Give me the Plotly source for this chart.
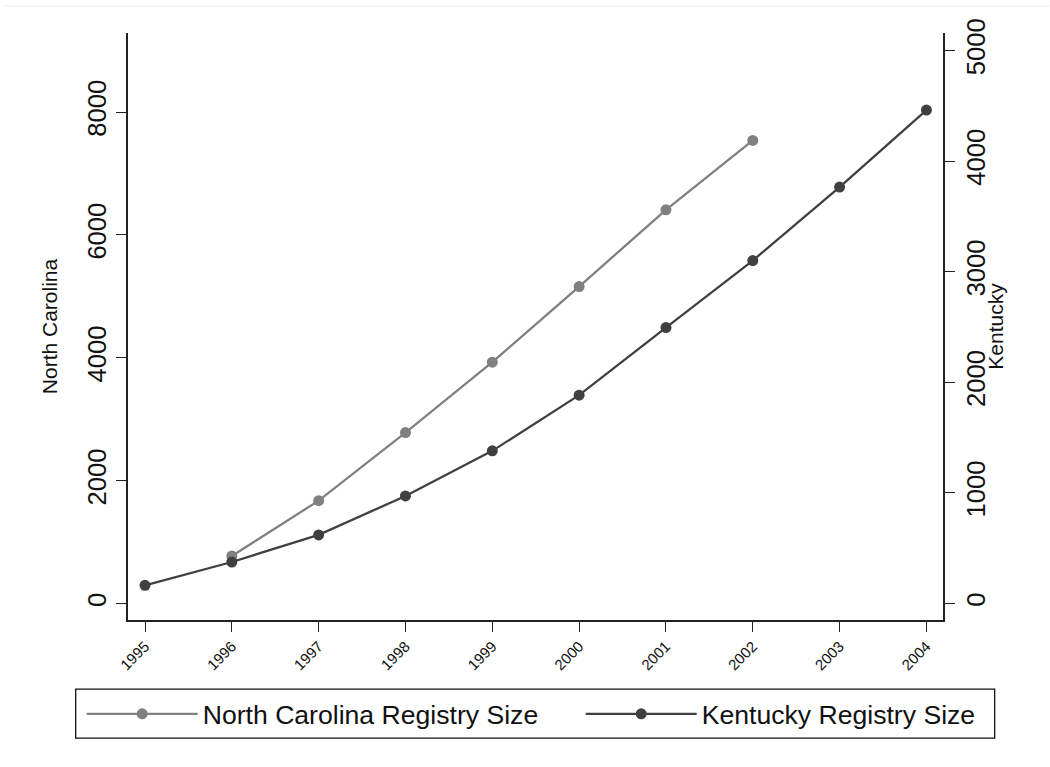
import plotly.graph_objects as go

years = [1995, 1996, 1997, 1998, 1999, 2000, 2001, 2002, 2003, 2004]
north_carolina = [None, 776, 1676, 2784, 3930, 5161, 6410, 7538, None, None]
kentucky = [164, 375, 620, 972, 1380, 1884, 2495, 3101, 3766, 4462]
left_ticks = [0, 2000, 4000, 6000, 8000]
right_ticks = [0, 1000, 2000, 3000, 4000, 5000]

FONT = "Liberation Sans, Arial, Helvetica, sans-serif"
NC_COLOR = "#808080"
KY_COLOR = "#404040"
AXIS_COLOR = "#222222"

fig = go.Figure()
fig.add_trace(go.Scatter(
    x=years, y=north_carolina, name="North Carolina Registry Size",
    mode="lines+markers", yaxis="y",
    line=dict(color=NC_COLOR, width=2.3),
    marker=dict(color=NC_COLOR, size=11),
    connectgaps=False, legendwidth=373,
))
fig.add_trace(go.Scatter(
    x=years, y=kentucky, name="Kentucky Registry Size",
    mode="lines+markers", yaxis="y2",
    line=dict(color=KY_COLOR, width=2.3),
    marker=dict(color=KY_COLOR, size=11),
))

fig.update_layout(
    width=1050, height=767,
    margin=dict(l=128, r=107, t=33, b=147, autoexpand=False),
    paper_bgcolor="white", plot_bgcolor="white",
    font=dict(family=FONT, color="#111111"),
    showlegend=True,
    xaxis=dict(
        range=[1994.804, 2004.191], tickmode="array", tickvals=years,
        ticktext=[str(y) for y in years], tickangle=-45,
        tickfont=dict(size=15), ticks="outside", ticklen=10, tickwidth=1.3,
        tickcolor=AXIS_COLOR, showline=True, linecolor=AXIS_COLOR, linewidth=1.5,
        showgrid=False, zeroline=False,
    ),
    yaxis=dict(
        range=[-266, 9287], tickmode="array", tickvals=left_ticks,
        tickangle=-90, tickfont=dict(size=25.6), ticks="outside", ticklen=10,
        tickwidth=1.3, tickcolor=AXIS_COLOR, showline=True, linecolor=AXIS_COLOR,
        linewidth=1.5, showgrid=False, zeroline=False,
        title=dict(text="North Carolina", font=dict(size=21), standoff=20),
    ),
    yaxis2=dict(
        range=[-149.6, 5159], tickmode="array", tickvals=right_ticks,
        overlaying="y", side="right",
        tickangle=-90, tickfont=dict(size=25.6), ticks="outside", ticklen=10,
        tickwidth=1.3, tickcolor=AXIS_COLOR, showline=True, linecolor=AXIS_COLOR,
        linewidth=1.5, showgrid=False, zeroline=False,
    ),
    legend=dict(
        orientation="h", x=-0.0568, xanchor="left", y=-0.1193, yanchor="top",
        borderwidth=0, bgcolor="rgba(0,0,0,0)",
        font=dict(size=26.6), itemwidth=111,
        traceorder="normal",
    ),
    annotations=[dict(
        text="Kentucky", xref="paper", yref="paper", x=1.064, y=0.5,
        xanchor="center", yanchor="middle", textangle=-90, showarrow=False,
        font=dict(size=21),
    )],
    shapes=[
        dict(type="line", xref="paper", yref="paper",
             x0=-0.152, x1=1.131, y0=1.046, y1=1.046,
             line=dict(color="#e8f0f0", width=1)),
        dict(type="rect", xref="paper", yref="paper",
             x0=-0.0642, x1=1.0634, y0=-0.1176, y1=-0.2011,
             line=dict(color="#111111", width=1.3), fillcolor="rgba(0,0,0,0)"),
    ],
)

fig.write_html("out.html", config={"displayModeBar": False},
               post_script="document.body.style.margin='0';")
